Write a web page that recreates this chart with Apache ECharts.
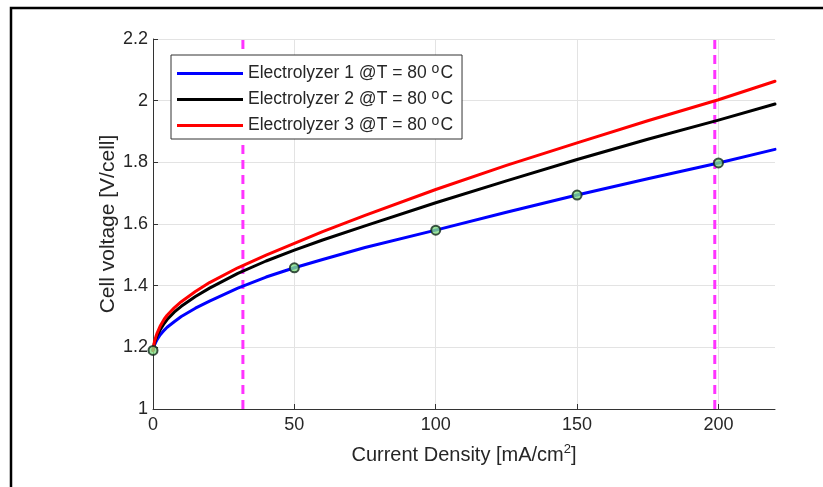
<!DOCTYPE html>
<html>
<head>
<meta charset="utf-8">
<script src="https://cdn.jsdelivr.net/npm/echarts@6/dist/echarts.min.js"></script>
<style>html,body{margin:0;padding:0;background:#fff;}#c{width:823px;height:487px;}</style>
</head>
<body>
<div id="c"></div>
<script>
// Data
const xs = [0, 0.5, 1, 1.5, 2.5, 4, 5, 7.5, 10, 15, 20, 30, 40, 50, 60, 75, 100, 125, 150, 175, 200, 220];
const blueV  = [1.19, 1.207, 1.217, 1.226, 1.24, 1.256, 1.265, 1.283, 1.30, 1.327, 1.35, 1.392, 1.428, 1.458, 1.485, 1.524, 1.580, 1.638, 1.694, 1.747, 1.798, 1.842];
const blackV = [1.19, 1.214, 1.227, 1.239, 1.256, 1.278, 1.29, 1.314, 1.333, 1.365, 1.392, 1.44, 1.48, 1.515, 1.548, 1.594, 1.669, 1.74, 1.809, 1.875, 1.937, 1.989];
const redV   = [1.19, 1.218, 1.234, 1.247, 1.268, 1.292, 1.304, 1.328, 1.348, 1.381, 1.41, 1.458, 1.499, 1.537, 1.575, 1.628, 1.712, 1.79, 1.863, 1.935, 2.003, 2.063];
const markerX = [0, 50, 100, 150, 200];
const markerY = [1.19, 1.458, 1.580, 1.694, 1.798];
const vLines = [31.8, 198.7];
const seriesNames = ['Electrolyzer 1 @T = 80 oC', 'Electrolyzer 2 @T = 80 oC', 'Electrolyzer 3 @T = 80 oC'];
const seriesColors = ['#0000ff', '#000000', '#ff0000'];

const zip = (a, b) => a.map((v, i) => [v, b[i]]);
const font = 'Liberation Sans, Arial, Helvetica, sans-serif';

const chart = echarts.init(document.getElementById('c'));
const curveData = [blueV, blackV, redV];

const series = [];
vLines.forEach(x => {
  series.push({
    type: 'line', data: [[x, 1], [x, 2.2]], symbol: 'none', silent: true,
    lineStyle: {color: '#ff33ff', width: 3, type: [9, 6]}, z: 2
  });
});
curveData.forEach((vals, i) => {
  series.push({
    name: seriesNames[i], type: 'line', data: zip(xs, vals), symbol: 'none',
    smooth: false,
    lineStyle: {color: seriesColors[i], width: 3, join: 'round', cap: 'round'},
    itemStyle: {color: seriesColors[i]}, z: 3
  });
});
series.push({
  type: 'scatter', data: zip(markerX, markerY), symbol: 'circle', symbolSize: 9,
  itemStyle: {color: '#85e085', borderColor: '#10281a', borderWidth: 2}, z: 5, silent: true
});

chart.setOption({
  animation: false,
  backgroundColor: '#fff',
  graphic: [{
    type: 'rect', shape: {x: 11, y: 8, width: 840, height: 520},
    style: {fill: 'none', stroke: '#000', lineWidth: 2.5}, z: 100, silent: true
  }],
  grid: {left: 153, top: 39, right: 48, bottom: 78, containLabel: false},
  legend: {
    data: seriesNames,
    orient: 'vertical', left: 171, top: 55,
    backgroundColor: '#fff', borderColor: '#333', borderWidth: 1,
    padding: [7, 9, 4.5, 6], itemGap: 5.5,
    icon: 'rect', itemWidth: 66, itemHeight: 3,
    formatter: function (name) {
      return name.replace(' oC', ' {sup|o}C');
    },
    textStyle: {
      fontFamily: font, fontSize: 17.5, color: '#262626',
      rich: {sup: {fontFamily: font, fontSize: 14, color: '#262626', verticalAlign: 'top', padding: [0, 1, 9, 0]}}
    }
  },
  xAxis: {
    type: 'value', min: 0, max: 220, interval: 50,
    name: 'Current Density [mA/cm{sup|2}]', nameLocation: 'middle', nameGap: 34,
    nameMoveOverlap: false,
    nameTextStyle: {fontFamily: font, fontSize: 20, color: '#262626',
      rich: {sup: {fontFamily: font, fontSize: 13, color: '#262626', padding: [0, 0, 11, 0]}}},
    axisLine: {show: true, lineStyle: {color: '#333', width: 1}},
    axisTick: {show: true, inside: true, length: 5, lineStyle: {color: '#333'}},
    axisLabel: {fontFamily: font, fontSize: 18, color: '#262626', margin: 7, showMaxLabel: false},
    splitLine: {show: true, lineStyle: {color: ['#e3e3e3', '#e3e3e3', '#e3e3e3', '#e3e3e3', '#e3e3e3', 'rgba(0,0,0,0)'], width: 1}}
  },
  yAxis: {
    type: 'value', min: 1, max: 2.2, interval: 0.2,
    name: 'Cell voltage [V/cell]', nameLocation: 'middle', nameGap: 34, nameRotate: 90,
    nameMoveOverlap: false,
    nameTextStyle: {fontFamily: font, fontSize: 21, color: '#262626'},
    axisLine: {show: true, lineStyle: {color: '#333', width: 1}},
    axisTick: {show: true, inside: true, length: 5, lineStyle: {color: '#333'}},
    axisLabel: {fontFamily: font, fontSize: 18, color: '#262626', margin: 5,
      formatter: v => String(Math.round(v * 10) / 10)},
    splitLine: {show: true, lineStyle: {color: '#e3e3e3', width: 1}}
  },
  series: series
});
</script>
</body>
</html>
